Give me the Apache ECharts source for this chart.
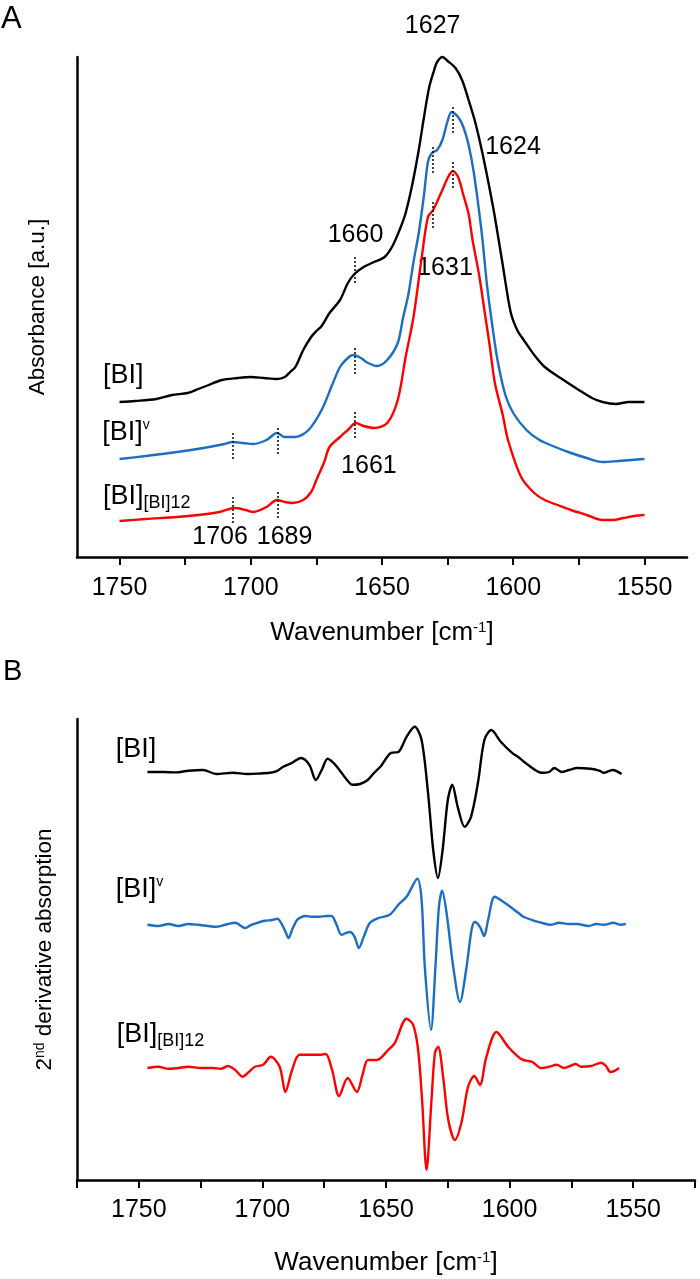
<!DOCTYPE html>
<html><head><meta charset="utf-8">
<script src="https://cdn.jsdelivr.net/npm/echarts@6/dist/echarts.min.js"></script>
<style>html,body{margin:0;padding:0;background:#fff}#c{width:700px;height:1279px}</style>
</head><body><div id="c"></div>
<script>
const NARROW = "'Liberation Sans',Arial,sans-serif";
const REG = "'Liberation Sans',Arial,sans-serif";
const BLACK = '#000000', BLUE = '#1b6ec2', RED = '#ff0000';

// ---------- Panel A: absorbance [wavenumber cm-1, absorbance a.u.] ----------
const absBI = [[1750,31],[1744,31.2],[1736,31.6],[1730,32.4],[1724,32.8],[1720,33.6],[1717,34.2],[1711,35.4],[1705,35.8],[1700,36],[1695,35.8],[1690,35.6],[1687,36],[1685,37],[1683,38],[1680,41.4],[1677,44],[1675,45.2],[1673,46.2],[1670,48.8],[1666,51.4],[1663,54.8],[1660.5,56.6],[1657,58],[1653,59],[1649,60],[1646,62.2],[1643,65.8],[1641,68.8],[1638.5,74.4],[1636,81.4],[1634,88],[1632,94],[1630,97.6],[1629,99],[1627,100],[1625,99.2],[1622,97.8],[1619.5,95.4],[1617,91.4],[1614.5,87],[1612,81.4],[1609.5,75],[1607,68],[1604,58.4],[1601,49],[1598.5,45.4],[1596,43.4],[1592,40.4],[1588,38],[1582,35.8],[1575,33.4],[1570,31.8],[1566,31],[1561,30.6],[1556,31],[1550,31]];
const absBIv = [[1750,19.6],[1740,20.2],[1728,21],[1718,21.8],[1710,22.6],[1707,23],[1703,22.8],[1699,22.6],[1694,23.4],[1690,24.8],[1687,24],[1683,24],[1678,25.4],[1673,29.4],[1669,34.4],[1666,38],[1663,39.8],[1661,40.4],[1658,39.8],[1656,39],[1652,38.2],[1648,39.4],[1644,42.8],[1642,47.8],[1640,52.4],[1638,59],[1636,64.8],[1634,72.4],[1632.5,79],[1631,80.8],[1629,81.4],[1627,83.4],[1625,87.2],[1623.5,89],[1621,88],[1619,86],[1617,82.4],[1615,76.8],[1612,64.8],[1610,54.4],[1608,46.4],[1606,39.4],[1603,32.4],[1600,28.8],[1595,25.4],[1590,23.4],[1584,22],[1578,20.8],[1572,19.8],[1566,19],[1560,19.2],[1555,19.4],[1550,19.6]];
const absBI12 = [[1750,7.2],[1740,7.6],[1728,8],[1720,8.4],[1712,9],[1706,9.8],[1702,9.4],[1699,9],[1694,10],[1690,11.4],[1687,11],[1684,10.8],[1680,11.4],[1677,13],[1675,15.4],[1672,19],[1670,22],[1666,24],[1663,25.4],[1660,26.8],[1657,26.2],[1653,25.8],[1648,26.8],[1644,31.4],[1641,40],[1638,48],[1635,59.4],[1632.5,68],[1630.5,69.4],[1627,73.4],[1625,75.8],[1623,77.2],[1621,76],[1619,72.4],[1617,68.6],[1615.5,63.4],[1613,56.4],[1611,49.4],[1609,42.4],[1607,34.8],[1604,28.4],[1602,23.4],[1597,16],[1592,12.8],[1588,11.4],[1583,10.4],[1578,9.4],[1572,8.4],[1566,7.4],[1562,7.4],[1558,7.8],[1554,8.2],[1550,8.4]];

// ---------- Panel B: 2nd derivative [wavenumber cm-1, a.u. with offsets] ----------
const d2BI = [[1746.5,102],[1740,102],[1735,101.9],[1730,102.3],[1724,102.5],[1718.6,101.5],[1712,101.8],[1706,101.5],[1702,101.6],[1697,101.8],[1694,102.3],[1691.6,103.3],[1688,104.3],[1684.4,105.5],[1681,103.8],[1678.4,100],[1676,102.5],[1673.6,105.3],[1670.5,103.8],[1668,101.8],[1665.5,99.8],[1663.7,98.8],[1660.5,99],[1657.4,100],[1654.5,102],[1652,103.5],[1649.5,105.8],[1648,106.8],[1645,107],[1641.7,110.8],[1638.4,113.3],[1635.6,110],[1633,96.8],[1630.9,82.5],[1629,75.5],[1627.1,82.5],[1625,95],[1623.2,98.8],[1621,93.3],[1618.2,88.3],[1615.6,90.8],[1612.8,99.3],[1610.2,110],[1607.4,112.5],[1603.5,109.5],[1599,106.8],[1596,105.5],[1592.6,103.8],[1587,101.8],[1584,102],[1581.9,103],[1579,102],[1576,102.5],[1572.7,103],[1567.3,102.8],[1563.5,102.3],[1561.9,101.8],[1558.3,102.5],[1554.7,101.5]];
const d2BIv = [[1746.5,63.8],[1742,63.5],[1738,64],[1734,63.5],[1730,64],[1726,63.8],[1722,63.5],[1718.6,63.3],[1714,64],[1711,64.3],[1707,63],[1704.5,63.8],[1702,64.3],[1699,64.8],[1696,65],[1694,65.3],[1692,63.8],[1690.5,61.8],[1689.4,60.5],[1688,62.5],[1686,65],[1684,65.8],[1682.6,66],[1680,65.8],[1677,65.8],[1674,66],[1672,66],[1670,63.8],[1668,61.3],[1666,61.8],[1664.6,62],[1662.7,60.8],[1661,58],[1659,60.8],[1656.5,64.3],[1653,65.5],[1648.5,66.3],[1645,68.8],[1641.7,70.8],[1637.3,75.3],[1635.6,70],[1634.3,53.3],[1631.8,37.5],[1630,53.3],[1628.6,68.3],[1627.3,72.3],[1625.5,66.8],[1622.8,53.3],[1620.1,44.5],[1617.4,53.3],[1615.4,62.5],[1614.1,64.5],[1612,63.3],[1610.3,61],[1608.7,65],[1606,70.8],[1602,69.3],[1596.5,66.8],[1594.4,65.8],[1590,64.8],[1587,64.3],[1583.5,63.8],[1580,64.3],[1576,64],[1572.7,64],[1568,63.5],[1565,64],[1562,63.8],[1558,64.3],[1555,63.8],[1553,64]];
const d2BI12 = [[1746.5,28],[1742,28.3],[1738,27.8],[1734,28],[1730,28.3],[1725,28],[1720,28],[1716.8,27.8],[1714,28.5],[1711,27.5],[1708,25.8],[1705.5,27],[1703,28.3],[1699.7,28.8],[1696.6,30.8],[1693,28.3],[1690.7,22],[1688,27.5],[1685,31.3],[1680.7,31.3],[1677,31.3],[1674.4,31.5],[1671.8,27.5],[1669,21],[1665.5,25.5],[1661.8,22],[1659.5,26.3],[1657.3,30],[1653.7,30],[1649.1,32.5],[1646.4,34.3],[1641.7,40.3],[1639,38.8],[1637,32.5],[1635.4,20],[1633.6,2.5],[1631.6,20],[1630.2,31.8],[1628.9,33.3],[1626.9,25.8],[1624.8,15],[1622.1,10],[1619.5,14.3],[1616.8,23.3],[1614.3,26],[1612,23.8],[1609.4,30.8],[1605.3,37],[1600.6,33.3],[1596.5,30.8],[1594.4,30],[1590.8,29.5],[1587.2,28],[1584,28.3],[1580.9,28.8],[1578,28],[1575.5,28.5],[1573.3,29],[1571,28.3],[1567,28.5],[1563,29.3],[1561,28.5],[1559.3,27],[1557.5,27.3],[1555.7,28]];

// ---------- ticks ----------
const tickMarksA = [1550,1575,1600,1625,1650,1675,1700,1725,1750];
const tickLabelsA = [1550,1600,1650,1700,1750];

// ---------- peak annotations (panel A) ----------
const peakText = ['1627','1624','1660','1631','1661','1706','1689'];
const peakWn   = [1630.7,1600.1,1660.1,1626,1655,1711.7,1687.1];
const peakY    = [106.2,82,64.4,57.8,18.2,4,4];
// dotted peak markers (panel A): wavenumber, top, bottom
const markerWn     = [1627,1623,1630.7,1623,1630.7,1660.4,1660.4,1660.4,1706.7,1706.7,1689.9,1689.9];
const markerTop    = [102,90,82,79,71,60,41.8,29,24.8,12,25.8,13];
const markerBottom = [96.8,84.8,76.8,73.8,65.8,54.8,36.4,23.8,19.4,6.8,20.4,7.8];

// ---------- curve name labels ----------
const nameTextA = ['{m|[BI]}','{m|[BI]}{p|v}','{m|[BI]}{s|[BI]12}'];
const nameWnA = [1756.3,1756.6,1756.3];
const nameYA  = [36.2,24.8,12];
const nameTextB = ['{m|[BI]}','{m|[BI]}{p|v}','{m|[BI]}{s|[BI]12}'];
const nameWnB = [1759.3,1759.3,1758.9];
const nameYB  = [107.5,72.5,36.25];

const rich = {
  m:{fontSize:27,fontFamily:NARROW,color:'#000',lineHeight:30},
  p:{fontSize:14,fontFamily:NARROW,color:'#000',verticalAlign:'top',lineHeight:16},
  s:{fontSize:18,fontFamily:NARROW,color:'#000',verticalAlign:'bottom',lineHeight:17}
};

function curve(data, color, gi, extra){
  return Object.assign({type:'line', xAxisIndex:gi, yAxisIndex:gi, data:data, showSymbol:false,
    smooth:0.3, clip:false, lineStyle:{color:color,width:2.4}, itemStyle:{color:color}, animation:false, z:3}, extra||{});
}
function textLayer(gi, wns, ys, texts, isRich){
  return {type:'scatter', xAxisIndex:gi, yAxisIndex:gi, symbolSize:1, clip:false, animation:false, silent:true,
    itemStyle:{color:'rgba(0,0,0,0)', opacity:1},
    data: wns.map((w,i)=>({value:[w,ys[i]], name:texts[i]})),
    label:{show:true, position:'inside', formatter:'{b}', opacity:1,
      align: isRich ? 'left' : 'center', verticalAlign:'middle', textBorderWidth:0,
      fontFamily:NARROW, fontSize:25, color:'#000', rich: isRich ? rich : undefined}};
}

const axisLineStyle = {color:'#000', width:2.5};
const xNameRich = {n:{fontSize:26,fontFamily:NARROW,color:'#000'}, s:{fontSize:15,fontFamily:NARROW,color:'#000',verticalAlign:'top',lineHeight:15}};

const option = {
  backgroundColor:'#fff',
  animation:false,
  graphic:[
    {type:'text', left:1, top:4, style:{text:'A', fontSize:31, fontFamily:NARROW, fill:'#000'}},
    {type:'text', left:3, top:657, style:{text:'B', fontSize:29, fontFamily:NARROW, fill:'#000'}}
  ],
  grid:[
    {left:77, top:57, width:610, height:500},
    {left:77, top:719, width:618, height:461}
  ],
  xAxis:[
    {type:'value', gridIndex:0, min:1533.8, max:1766.2, inverse:true,
     axisLine:{show:true, lineStyle:axisLineStyle},
     axisTick:{show:true, customValues:tickMarksA, length:8, lineStyle:{color:'#000', width:2}},
     axisLabel:{show:true, customValues:tickLabelsA, margin:19, fontSize:25, fontFamily:NARROW, color:'#000',
       formatter:(v)=>String(v)},
     splitLine:{show:false},
     name:'{n|Wavenumber [cm}{s|-1}{n|]}', nameLocation:'middle', nameGap:63,
     nameTextStyle:{rich:xNameRich}},
    {type:'value', gridIndex:1, min:1525, max:1775, interval:25, inverse:true,
     axisLine:{show:true, lineStyle:axisLineStyle},
     axisTick:{show:true, length:8, lineStyle:{color:'#000', width:2}},
     axisLabel:{show:true, margin:18, fontSize:25, fontFamily:NARROW, color:'#000',
       formatter:(v)=> (v % 50 === 0 ? String(v) : ''), showMinLabel:true, showMaxLabel:true},
     splitLine:{show:false},
     name:'{n|Wavenumber [cm}{s|-1}{n|]}', nameLocation:'middle', nameGap:70,
     nameTextStyle:{rich:xNameRich}}
  ],
  yAxis:[
    {type:'value', gridIndex:0, min:0, max:100,
     axisLine:{show:true, lineStyle:axisLineStyle}, axisTick:{show:false}, axisLabel:{show:false}, splitLine:{show:false},
     name:'Absorbance [a.u.]', nameLocation:'middle', nameRotate:90, nameGap:28,
     nameTextStyle:{fontSize:22.5, fontFamily:REG, color:'#000'}},
    {type:'value', gridIndex:1, min:0, max:115.25,
     axisLine:{show:true, lineStyle:axisLineStyle}, axisTick:{show:false}, axisLabel:{show:false}, splitLine:{show:false},
     name:'{n|2}{s|nd}{n| derivative absorption}', nameLocation:'middle', nameRotate:90, nameGap:21,
     nameTextStyle:{rich:{n:{fontSize:22.5,fontFamily:REG,color:'#000'}, s:{fontSize:14,fontFamily:REG,color:'#000',verticalAlign:'top',lineHeight:14}}}}
  ],
  series:[
    curve(absBI, BLACK, 0, {markLine:{silent:true, symbol:['none','none'], animation:false,
      label:{show:false}, lineStyle:{type:[2,2], width:1.6, color:'#111'},
      data: markerWn.map((w,i)=>[{coord:[w,markerTop[i]]},{coord:[w,markerBottom[i]]}])}}),
    curve(absBIv, BLUE, 0),
    curve(absBI12, RED, 0),
    curve(d2BI, BLACK, 1),
    curve(d2BIv, BLUE, 1),
    curve(d2BI12, RED, 1),
    textLayer(0, peakWn, peakY, peakText, false),
    textLayer(0, nameWnA, nameYA, nameTextA, true),
    textLayer(1, nameWnB, nameYB, nameTextB, true)
  ]
};
const chart = echarts.init(document.getElementById('c'), null, {renderer:'canvas'});
chart.setOption(option);
</script></body></html>
